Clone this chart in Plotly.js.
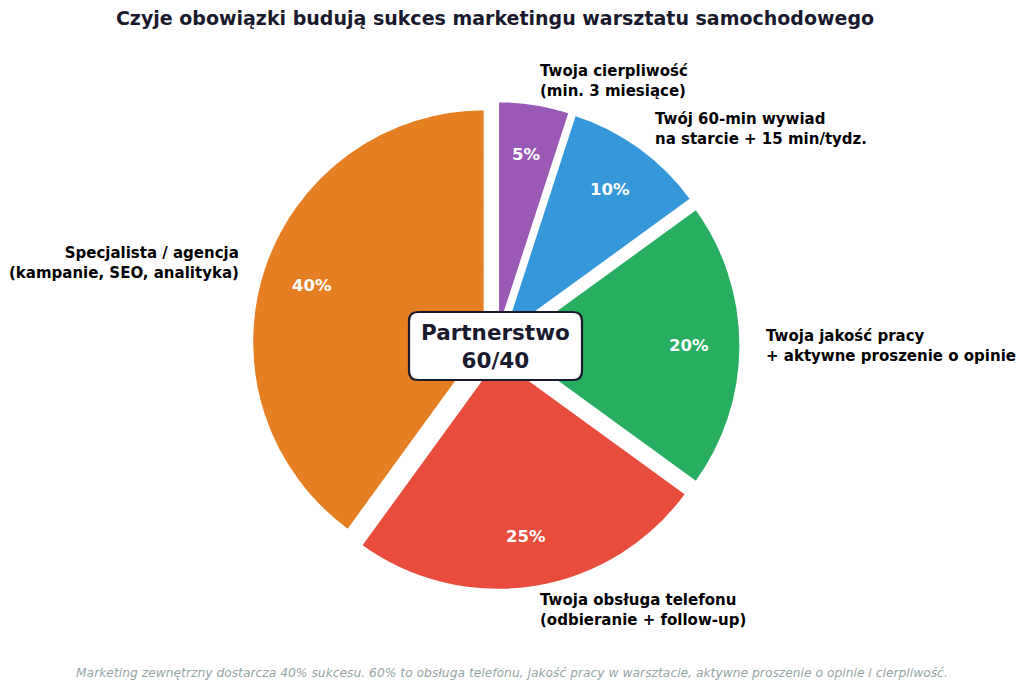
<!DOCTYPE html>
<html>
<head>
<meta charset="utf-8">
<script src="https://cdn.plot.ly/plotly-3.0.1.min.js"></script>
<style>
  html, body { margin: 0; padding: 0; background: #fff; }
  #chart { width: 1024px; height: 690px; }
</style>
</head>
<body>
<div id="chart"></div>
<script>
// Data
const sliceLabels = [
    'Twoja cierpliwość<br>(min. 3 miesiące)',
    'Twój 60-min wywiad<br>na starcie + 15 min/tydz.',
    'Twoja jakość pracy<br>+ aktywne proszenie o opinie',
    'Twoja obsługa telefonu<br>(odbieranie + follow-up)',
    'Specjalista / agencja<br>(kampanie, SEO, analityka)',
];
const sliceValues = [5, 10, 20, 25, 40];
const sliceColors = ['#9b59b6', '#3498db', '#27ae60', '#e74c3c', '#e67e22'];
const centerText = 'Partnerstwo<br>60/40';
const titleText = 'Czyje obowiązki budują sukces marketingu warsztatu samochodowego';
const footerText = 'Marketing zewnętrzny dostarcza 40% sukcesu. 60% to obsługa telefonu, jakość pracy w warsztacie, aktywne proszenie o opinie i cierpliwość.';

// Geometry (pixels)
const W = 1024, H = 690;
const CX = 496, CY = 345.5;
const PULL = 0.05;
const R = 233;                       // pie radius after pull
const outer = R * (1 + PULL);         // half-size of the domain
const FONT = 'DejaVu Sans, Verdana, sans-serif';
const DARK = '#1a1a2e';

const px = x => x / W;
const py = y => 1 - y / H;

const total = sliceValues.reduce((a, b) => a + b, 0);
const annotations = [];
let cum = 0;
sliceValues.forEach((v, i) => {
    const mid = (90 - 360 * (cum + v / 2) / total) * Math.PI / 180;
    cum += v;
    const c = Math.cos(mid), s = Math.sin(mid);
    // outside label
    const dl = R * (1.1 + PULL);
    annotations.push({
        x: px(CX + dl * c), y: py(CY - dl * s), xref: 'paper', yref: 'paper',
        text: sliceLabels[i], showarrow: false,
        xanchor: c > 0.001 ? 'left' : 'right', yanchor: 'middle',
        align: c > 0.001 ? 'left' : 'right',
        font: { family: FONT, size: 15, color: '#000', weight: 'bold' },
    });
    // percentage inside
    const dp = R * (0.78 + PULL);
    annotations.push({
        x: px(CX + dp * c), y: py(CY - dp * s), xref: 'paper', yref: 'paper',
        text: Math.round(v / total * 100) + '%', showarrow: false,
        xanchor: 'center', yanchor: 'middle',
        font: { family: FONT, size: 16.5, color: '#fff', weight: 'bold' },
    });
});

// center text
annotations.push({
    x: px(495.5), y: py(346), xref: 'paper', yref: 'paper',
    text: centerText, showarrow: false, xanchor: 'center', yanchor: 'middle',
    font: { family: FONT, size: 21.5, color: DARK, weight: 'bold' },
});

// footer
annotations.push({
    x: 0.5, y: py(673), xref: 'paper', yref: 'paper',
    text: '<i>' + footerText + '</i>', showarrow: false,
    xanchor: 'center', yanchor: 'middle',
    font: { family: FONT, size: 12.3, color: '#95a5a6' },
});

// rounded box behind center text
function roundedBox(x0, y0, x1, y1, rr) {
    const p = (x, y) => px(x) + ',' + py(y);
    return 'M' + p(x0 + rr, y0) + ' L' + p(x1 - rr, y0) + ' Q' + p(x1, y0) + ' ' + p(x1, y0 + rr) +
        ' L' + p(x1, y1 - rr) + ' Q' + p(x1, y1) + ' ' + p(x1 - rr, y1) +
        ' L' + p(x0 + rr, y1) + ' Q' + p(x0, y1) + ' ' + p(x0, y1 - rr) +
        ' L' + p(x0, y0 + rr) + ' Q' + p(x0, y0) + ' ' + p(x0 + rr, y0) + ' Z';
}

const trace = {
    type: 'pie',
    values: sliceValues,
    labels: sliceLabels,
    sort: false,
    direction: 'clockwise',
    rotation: 0,
    pull: sliceValues.map(() => PULL),
    textinfo: 'none',
    hoverinfo: 'skip',
    marker: { colors: sliceColors, line: { color: '#ffffff', width: 2.5 } },
    domain: {
        x: [px(CX) - 0.3, px(CX) + 0.3],
        y: [1 - (CY + outer) / H, 1 - (CY - outer) / H],
    },
    showlegend: false,
};

const layout = {
    width: W, height: H,
    margin: { l: 0, r: 0, t: 0, b: 0 },
    paper_bgcolor: '#ffffff',
    title: {
        text: titleText,
        x: px(495), y: py(18), xref: 'paper', yref: 'paper',
        xanchor: 'center', yanchor: 'middle',
        font: { family: FONT, size: 19, color: DARK, weight: 'bold' },
    },
    shapes: [{
        type: 'path', xref: 'paper', yref: 'paper',
        path: roundedBox(409, 312, 582, 380, 9),
        fillcolor: '#ffffff', line: { color: DARK, width: 2.2 },
    }],
    annotations,
    showlegend: false,
};

Plotly.newPlot('chart', [trace], layout, { displayModeBar: false, staticPlot: true });
</script>
</body>
</html>
